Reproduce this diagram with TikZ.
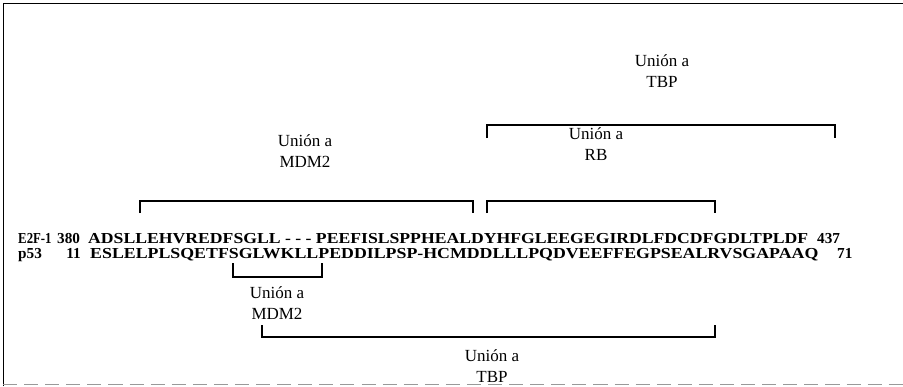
\documentclass[tikz,border=0pt]{standalone}
\usepackage{fontspec}
\setmainfont{Liberation Serif}
\usetikzlibrary{positioning}
\begin{document}
\begin{tikzpicture}[x=0.03cm,y=-0.03cm,
  lbl/.style={align=center,font=\fontsize{14.5}{18.5}\selectfont,inner sep=0pt},
  seq/.style={anchor=base west,font=\fontsize{13}{15}\selectfont\bfseries,inner sep=0pt,
    text height=8pt,text depth=1pt},
  brk/.style={line width=1.1pt}]
  \useasboundingbox (0,0) rectangle (903,386);
  \draw[line width=0.8pt] (3,386) -- (3,3) -- (903,3);
  \draw[black!40,line width=0.8pt,dash pattern=on 12pt off 6pt] (3,384) -- (903,384);
  % secuencias
  \node[seq] (e2f) at (18,243) {\scalebox{0.84}[1]{E2F-1}};
  \node[seq] (e2fa) at (57,243) {380};
  \node[seq] (e2fs) at (88,243) {\scalebox{1.16}[1]{ADSLLEHVREDFSGLL - - - PEEFISLSPPHEALDYHFGLEEGEGIRDLFDCDFGDLTPLDF}};
  \node[seq] (e2fb) at (817,243) {437};
  \node[seq] (p53) at (18,258) {p53};
  \node[seq,anchor=base east] (p53a) at (81,258) {11};
  \node[seq] (p53s) at (90,258) {\scalebox{1.17}[1]{ESLELPLSQETFSGLWKLLPEDDILPSP-HCMDDLLLPQDVEEFFEGPSEALRVSGAPAAQ}};
  \node[seq] (p53b) at (837,258) {71};
  % dominios E2F-1
  \draw[brk] (487,138) -- (487,125) -- (835,125) -- (835,138);
  \node[lbl] (tbp1) at (662,71) {Unión a\\TBP};
  \draw[brk] (140,213) -- (140,201) -- (473,201) -- (473,213);
  \node[lbl] (mdm1) at (305,151) {Unión a\\MDM2};
  \draw[brk] (487,213) -- (487,201) -- (715,201) -- (715,213);
  \node[lbl] (rb) at (596,144) {Unión a\\RB};
  % dominios p53
  \draw[brk] (233,263) -- (233,277) -- (322,277) -- (322,263);
  \node[lbl] (mdm2) at (277,303) {Unión a\\MDM2};
  \draw[brk] (262,325) -- (262,337) -- (715,337) -- (715,325);
  \node[lbl] (tbp2) at (492,366) {Unión a\\TBP};
\end{tikzpicture}
\end{document}
